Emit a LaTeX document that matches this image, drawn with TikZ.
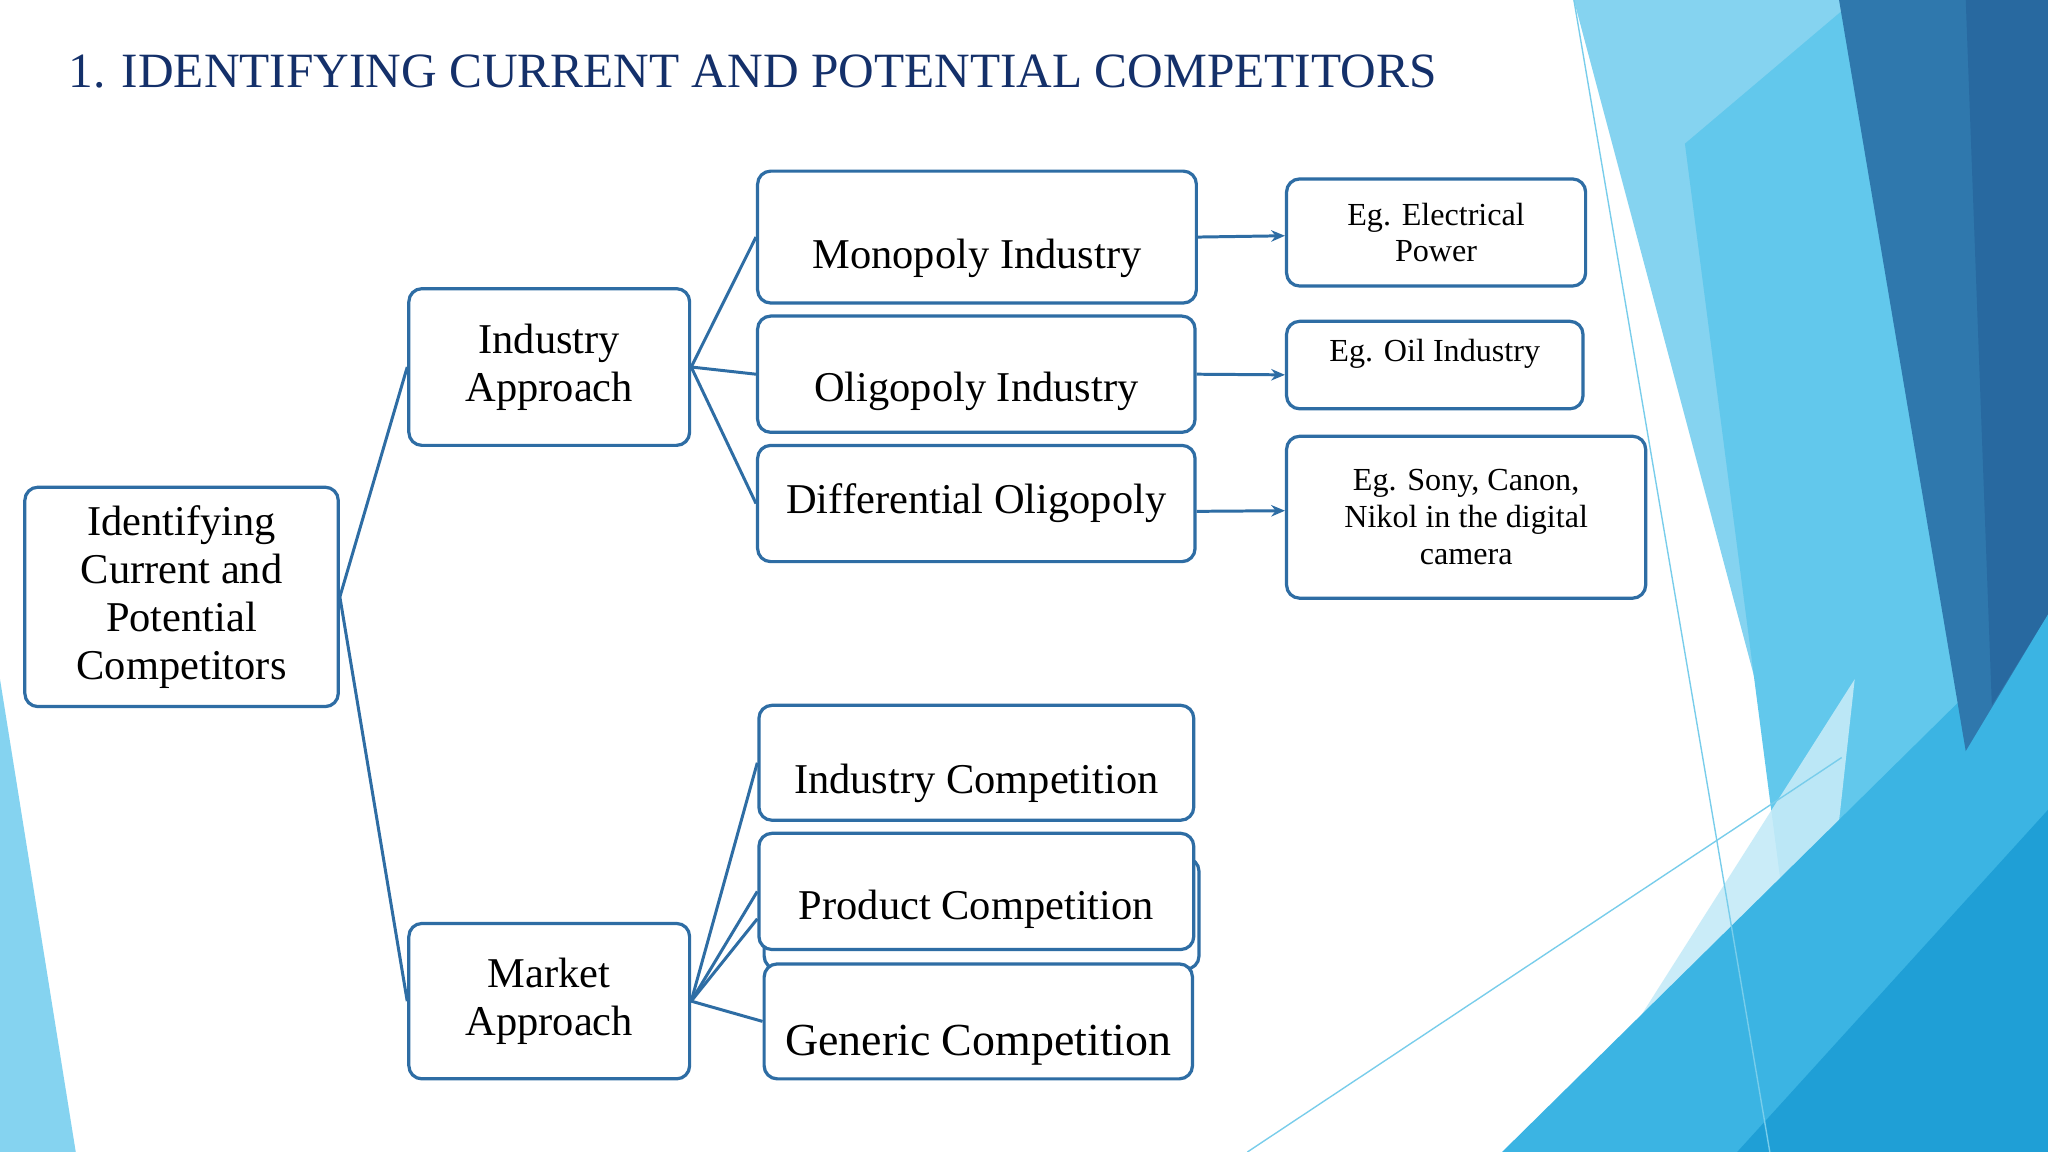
\documentclass[tikz,border=0pt]{standalone}
\usepackage{fontspec}
\setmainfont{Liberation Serif}
\usetikzlibrary{arrows.meta}
\definecolor{edge}{HTML}{2E6DA4}
\definecolor{navy}{HTML}{14306A}
\begin{document}
\begin{tikzpicture}[x=0.02cm,y=-0.02cm,
  bx/.style={draw=edge,line width=1.4pt,rounded corners=0.2cm,fill=white,inner sep=0pt},
  big/.style={font=\fontsize{18.5}{21}\selectfont,align=center},
  sm/.style={font=\fontsize{14}{16}\selectfont,align=center},
  ln/.style={draw=edge,line width=1.3pt},
  ar/.style={ln,-{Stealth[length=6pt,width=5pt]}}]
\useasboundingbox (0,0) rectangle (1568,882);
% background
\fill[white] (0,0) rectangle (1568,882);
\fill[color={rgb,255:red,133;green,211;blue,240}] (1205,0)--(1568,0)--(1568,882)--(1440,882)--cycle;
\fill[color={rgb,255:red,98;green,200;blue,236}] (1290,110)--(1420,0)--(1510,560)--(1430,882)--(1390,882)--cycle;
\fill[color={rgb,255:red,197;green,235;blue,248},opacity=0.9] (1190,882)--(1420,520)--(1380,882)--cycle;
\fill[color={rgb,255:red,59;green,180;blue,227}] (1150,882)--(1568,470)--(1568,882)--cycle;
\fill[color={rgb,255:red,47;green,120;blue,173}] (1408,0)--(1568,0)--(1568,470)--(1505,575)--cycle;
\fill[color={rgb,255:red,40;green,105;blue,160}] (1505,0)--(1568,0)--(1568,470)--(1525,540)--cycle;
\fill[color={rgb,255:red,31;green,159;blue,214}] (1330,882)--(1568,620)--(1568,882)--cycle;
\draw[color={rgb,255:red,120;green,205;blue,235},line width=0.6pt] (955,882)--(1410,580);
\draw[color={rgb,255:red,120;green,205;blue,235},line width=0.6pt] (1205,0)--(1355,882);
\fill[color={rgb,255:red,133;green,211;blue,240}] (0,520)--(0,882)--(58,882)--cycle;
% title
\node[anchor=west,text=navy,font=\fontsize{21.5}{24}\selectfont,inner sep=0pt] (title) at (52,55) {1. IDENTIFYING CURRENT AND POTENTIAL COMPETITORS};
% boxes
\node[bx,big,minimum width=4.8cm,minimum height=3.36cm] (root) at (139,457) {Identifying\\Current and\\Potential\\Competitors};
\node[bx,big,minimum width=4.3cm,minimum height=2.4cm] (ind) at (420.5,281) {Industry\\Approach};
\node[bx,big,minimum width=4.3cm,minimum height=2.38cm] (mkt) at (420.5,766.5) {Market\\Approach};
\node[bx,minimum width=6.72cm,minimum height=2.02cm] (mono) at (748,181.5) {};
\node[big] (monot) at (748,198) {Monopoly Industry};
\node[bx,minimum width=6.7cm,minimum height=1.78cm] (oli) at (747.5,286.5) {};
\node[big] (olit) at (747.5,300) {Oligopoly Industry};
\node[bx,big,minimum width=6.7cm,minimum height=1.78cm] (dif) at (747.5,385.5) {Differential Oligopoly};
\node[bx,minimum width=6.66cm,minimum height=1.76cm] (ic) at (747.5,584) {};
\node[big] (ict) at (747.5,600) {Industry Competition};
\node[bx,minimum width=6.66cm,minimum height=1.7cm] (pcs) at (751.5,699.5) {};
\node[bx,minimum width=6.66cm,minimum height=1.78cm] (pc) at (747.5,682.5) {};
\node[big] (pct) at (747.5,696) {Product Competition};
\node[bx,minimum width=6.56cm,minimum height=1.76cm] (gc) at (749,782) {};
\node[big,font=\fontsize{20}{22}\selectfont] (gct) at (749,800) {Generic Competition};
\node[bx,sm,minimum width=4.58cm,minimum height=1.64cm] (e1) at (1099.5,178) {Eg. Electrical\\Power};
\node[bx,minimum width=4.54cm,minimum height=1.34cm] (e2) at (1098.5,279.5) {};
\node[sm] (e2t) at (1098.5,271) {Eg. Oil Industry};
\node[bx,sm,minimum width=5.5cm,minimum height=2.48cm] (e3) at (1122.5,396) {Eg. Sony, Canon,\\Nikol in the digital\\camera};
% connectors
\draw[ln] (root.east)--(ind.west);
\draw[ln] (root.east)--(mkt.west);
\draw[ln] (ind.east)--(mono.west);
\draw[ln] (ind.east)--(oli.west);
\draw[ln] (ind.east)--(dif.west);
\draw[ln] (mkt.east)--(ic.west);
\draw[ln] (mkt.east)--(pc.west);
\draw[ln] (mkt.east)--([yshift=-0.42cm]pc.west);
\draw[ln] (mkt.east)--(gc.west);
\draw[ar] (mono.east)--([yshift=-0.05cm]e1.west);
\draw[ar] (oli.east)--([yshift=-0.15cm]e2.west);
\draw[ar] ([yshift=-0.12cm]dif.east)--([yshift=0.1cm]e3.west);
\end{tikzpicture}
\end{document}
